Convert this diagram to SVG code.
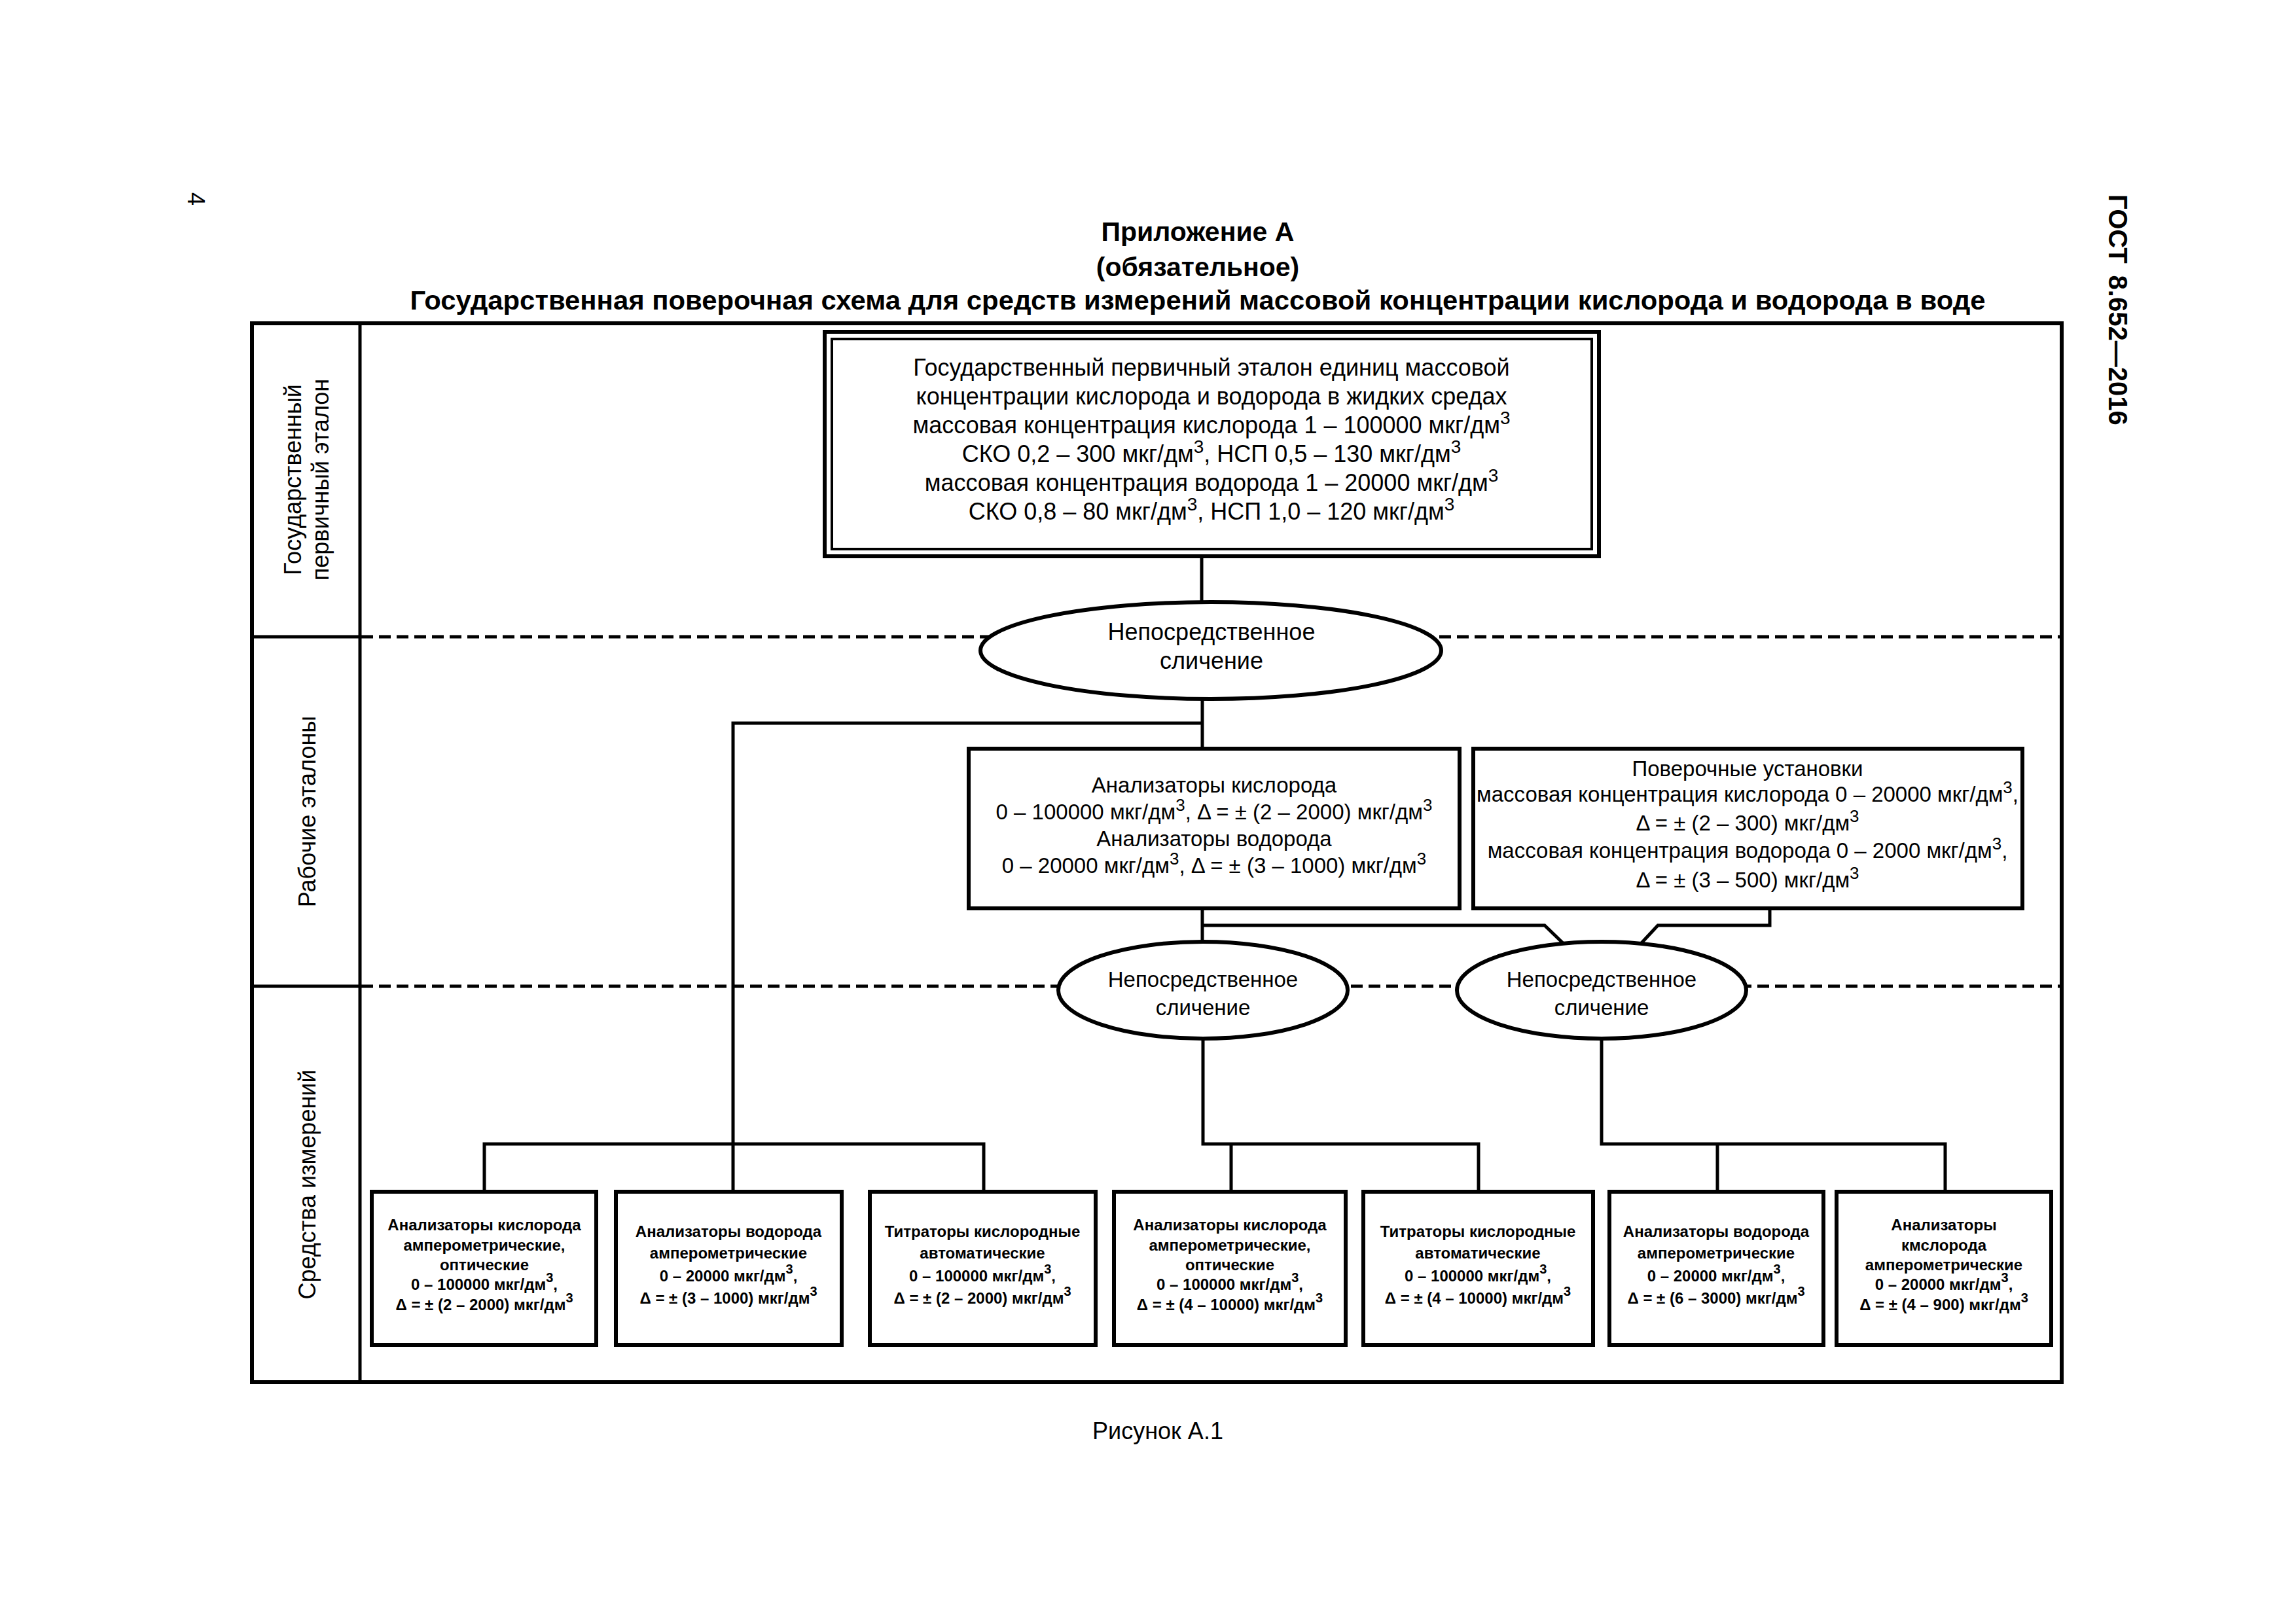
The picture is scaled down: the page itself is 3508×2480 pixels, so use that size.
<svg xmlns="http://www.w3.org/2000/svg" width="3508" height="2480" viewBox="0 0 3508 2480">
<style>
text { font-family: "Liberation Sans", Arial, sans-serif; fill: #000; }
.c { text-anchor: middle; }
.h { font-size: 41px; font-weight: bold; }
.lab { font-size: 36px; text-anchor: middle; }
.m { font-size: 36px; text-anchor: middle; }
.w { font-size: 33px; text-anchor: middle; }
.b { font-size: 24px; font-weight: bold; text-anchor: middle; }
.s36 { font-size: 28px; }
.s33 { font-size: 26px; }
.s24 { font-size: 20px; }
.box { fill: #fff; stroke: #000; stroke-width: 6; }
.ell { fill: #fff; stroke: #000; stroke-width: 6; }
.ln { fill: none; stroke: #000; stroke-width: 5; }
.dash { fill: none; stroke: #000; stroke-width: 5; stroke-dasharray: 18 9; }
</style>
<rect x="0" y="0" width="3508" height="2480" fill="#fff"/>

<!-- page furniture -->
<text transform="translate(287,294) rotate(90)" style="font-size:36px">4</text>
<text transform="translate(3222,297) rotate(90)" style="font-size:40px;font-weight:bold">ГОСТ<tspan dx="18">8.652—2016</tspan></text>
<text class="h c" x="1830" y="368">Приложение А</text>
<text class="h c" x="1830" y="422">(обязательное)</text>
<text class="h c" x="1830" y="473" textLength="2407" lengthAdjust="spacingAndGlyphs">Государственная поверочная схема для средств измерений массовой концентрации кислорода и водорода в воде</text>
<text class="c" x="1769" y="2199" style="font-size:36px">Рисунок А.1</text>

<!-- frame and levels -->
<g id="frame">
<rect x="385" y="494" width="2765" height="1618" fill="none" stroke="#000" stroke-width="6"/>
<line x1="550" y1="494" x2="550" y2="2112" stroke="#000" stroke-width="5"/>
<line x1="385" y1="973" x2="552" y2="973" stroke="#000" stroke-width="5"/>
<line x1="385" y1="1507" x2="552" y2="1507" stroke="#000" stroke-width="5"/>
<line class="dash" x1="552" y1="973" x2="3148" y2="973"/>
<line class="dash" x1="552" y1="1507" x2="3148" y2="1507"/>
<text class="lab" transform="translate(460,733) rotate(-90)">Государственный</text>
<text class="lab" transform="translate(502,733) rotate(-90)">первичный эталон</text>
<text class="lab" transform="translate(482,1240) rotate(-90)">Рабочие эталоны</text>
<text class="lab" transform="translate(482,1810) rotate(-90)">Средства измерений</text>
</g>

<!-- connectors -->
<g id="connectors">
<path class="ln" d="M1836 850 V920"/>
<path class="ln" d="M1837 1068 V1144"/>
<path class="ln" d="M1837 1105 H1120 V1821"/>
<path class="ln" d="M740 1821 V1748 H1503 V1821"/>
<path class="ln" d="M1837 1388 V1440"/>
<path class="ln" d="M1837 1414 H2360 L2390 1443"/>
<path class="ln" d="M2704 1388 V1414 H2533 L2506 1443"/>
<path class="ln" d="M1838 1587 V1748 H2259 V1821"/>
<path class="ln" d="M1881 1748 V1821"/>
<path class="ln" d="M2447 1587 V1748 H2972 V1821"/>
<path class="ln" d="M2624 1748 V1821"/>
</g>

<!-- state primary standard -->
<g id="primary">
<rect x="1260" y="507" width="1183" height="343" fill="#fff" stroke="#000" stroke-width="6"/>
<rect x="1271" y="518" width="1161" height="321" fill="none" stroke="#000" stroke-width="4"/>
<text class="m" x="1851" y="574">Государственный первичный эталон единиц массовой</text>
<text class="m" x="1851" y="618">концентрации кислорода и водорода в жидких средах</text>
<text class="m" x="1851" y="662">массовая концентрация кислорода 1 – 100000 мкг/дм<tspan class="s36" dy="-14">3</tspan></text>
<text class="m" x="1851" y="706">СКО 0,2 – 300 мкг/дм<tspan class="s36" dy="-14">3</tspan><tspan dy="14">, НСП 0,5 – 130 мкг/дм</tspan><tspan class="s36" dy="-14">3</tspan></text>
<text class="m" x="1851" y="750">массовая концентрация водорода 1 – 20000 мкг/дм<tspan class="s36" dy="-14">3</tspan></text>
<text class="m" x="1851" y="794">СКО 0,8 – 80 мкг/дм<tspan class="s36" dy="-14">3</tspan><tspan dy="14">, НСП 1,0 – 120 мкг/дм</tspan><tspan class="s36" dy="-14">3</tspan></text>
</g>

<g id="compare1">
<ellipse class="ell" cx="1850" cy="994" rx="352" ry="74"/>
<text class="m" x="1851" y="978">Непосредственное</text>
<text class="m" x="1851" y="1022">сличение</text>
</g>

<!-- working standards -->
<g id="ws-analyzers">
<rect class="box" x="1480" y="1144" width="750" height="244"/>
<text class="w" x="1855" y="1211">Анализаторы кислорода</text>
<text class="w" x="1855" y="1252">0 – 100000 мкг/дм<tspan class="s33" dy="-13">3</tspan><tspan dy="13">, Δ = ± (2 – 2000) мкг/дм</tspan><tspan class="s33" dy="-13">3</tspan></text>
<text class="w" x="1855" y="1293">Анализаторы водорода</text>
<text class="w" x="1855" y="1334">0 – 20000 мкг/дм<tspan class="s33" dy="-13">3</tspan><tspan dy="13">, Δ = ± (3 – 1000) мкг/дм</tspan><tspan class="s33" dy="-13">3</tspan></text>
</g>

<g id="ws-installations">
<rect class="box" x="2251" y="1144" width="839" height="244"/>
<text class="w" x="2670" y="1186">Поверочные установки</text>
<text class="w" x="2670" y="1225">массовая концентрация кислорода 0 – 20000 мкг/дм<tspan class="s33" dy="-13">3</tspan><tspan dy="13">,</tspan></text>
<text class="w" x="2670" y="1269">Δ = ± (2 – 300) мкг/дм<tspan class="s33" dy="-13">3</tspan></text>
<text class="w" x="2670" y="1311">массовая концентрация водорода 0 – 2000 мкг/дм<tspan class="s33" dy="-13">3</tspan><tspan dy="13">,</tspan></text>
<text class="w" x="2670" y="1356">Δ = ± (3 – 500) мкг/дм<tspan class="s33" dy="-13">3</tspan></text>
</g>

<g id="compare2">
<ellipse class="ell" cx="1838" cy="1513" rx="221" ry="74"/>
<text class="w" x="1838" y="1508">Непосредственное</text>
<text class="w" x="1838" y="1551">сличение</text>
</g>

<g id="compare3">
<ellipse class="ell" cx="2447" cy="1513" rx="221" ry="74"/>
<text class="w" x="2447" y="1508">Непосредственное</text>
<text class="w" x="2447" y="1551">сличение</text>
</g>

<!-- measuring instruments -->
<g id="mi1">
<rect class="box" x="568" y="1821" width="343" height="234"/>
<text class="b" x="740" y="1880">Анализаторы кислорода</text>
<text class="b" x="740" y="1911">амперометрические,</text>
<text class="b" x="740" y="1941">оптические</text>
<text class="b" x="740" y="1971">0 – 100000 мкг/дм<tspan class="s24" dy="-12">3</tspan><tspan dy="12">,</tspan></text>
<text class="b" x="740" y="2002">Δ = ± (2 – 2000) мкг/дм<tspan class="s24" dy="-12">3</tspan></text>
</g>

<g id="mi2">
<rect class="box" x="941" y="1821" width="345" height="234"/>
<text class="b" x="1113" y="1890">Анализаторы водорода</text>
<text class="b" x="1113" y="1923">амперометрические</text>
<text class="b" x="1113" y="1958">0 – 20000 мкг/дм<tspan class="s24" dy="-12">3</tspan><tspan dy="12">,</tspan></text>
<text class="b" x="1113" y="1992">Δ = ± (3 – 1000) мкг/дм<tspan class="s24" dy="-12">3</tspan></text>
</g>

<g id="mi3">
<rect class="box" x="1329" y="1821" width="345" height="234"/>
<text class="b" x="1501" y="1890">Титраторы кислородные</text>
<text class="b" x="1501" y="1923">автоматические</text>
<text class="b" x="1501" y="1958">0 – 100000 мкг/дм<tspan class="s24" dy="-12">3</tspan><tspan dy="12">,</tspan></text>
<text class="b" x="1501" y="1992">Δ = ± (2 – 2000) мкг/дм<tspan class="s24" dy="-12">3</tspan></text>
</g>

<g id="mi4">
<rect class="box" x="1702" y="1821" width="354" height="234"/>
<text class="b" x="1879" y="1880">Анализаторы кислорода</text>
<text class="b" x="1879" y="1911">амперометрические,</text>
<text class="b" x="1879" y="1941">оптические</text>
<text class="b" x="1879" y="1971">0 – 100000 мкг/дм<tspan class="s24" dy="-12">3</tspan><tspan dy="12">,</tspan></text>
<text class="b" x="1879" y="2002">Δ = ± (4 – 10000) мкг/дм<tspan class="s24" dy="-12">3</tspan></text>
</g>

<g id="mi5">
<rect class="box" x="2083" y="1821" width="351" height="234"/>
<text class="b" x="2258" y="1890">Титраторы кислородные</text>
<text class="b" x="2258" y="1923">автоматические</text>
<text class="b" x="2258" y="1958">0 – 100000 мкг/дм<tspan class="s24" dy="-12">3</tspan><tspan dy="12">,</tspan></text>
<text class="b" x="2258" y="1992">Δ = ± (4 – 10000) мкг/дм<tspan class="s24" dy="-12">3</tspan></text>
</g>

<g id="mi6">
<rect class="box" x="2459" y="1821" width="327" height="234"/>
<text class="b" x="2622" y="1890">Анализаторы водорода</text>
<text class="b" x="2622" y="1923">амперометрические</text>
<text class="b" x="2622" y="1958">0 – 20000 мкг/дм<tspan class="s24" dy="-12">3</tspan><tspan dy="12">,</tspan></text>
<text class="b" x="2622" y="1992">Δ = ± (6 – 3000) мкг/дм<tspan class="s24" dy="-12">3</tspan></text>
</g>

<g id="mi7">
<rect class="box" x="2806" y="1821" width="328" height="234"/>
<text class="b" x="2970" y="1880">Анализаторы</text>
<text class="b" x="2970" y="1911">кмслорода</text>
<text class="b" x="2970" y="1941">амперометрические</text>
<text class="b" x="2970" y="1971">0 – 20000 мкг/дм<tspan class="s24" dy="-12">3</tspan><tspan dy="12">,</tspan></text>
<text class="b" x="2970" y="2002">Δ = ± (4 – 900) мкг/дм<tspan class="s24" dy="-12">3</tspan></text>
</g>
</svg>
